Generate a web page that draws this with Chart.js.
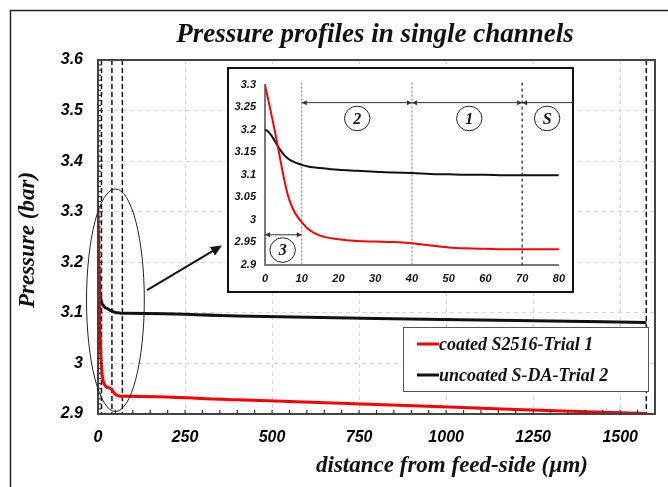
<!DOCTYPE html>
<html>
<head>
<meta charset="utf-8">
<script src="https://cdn.jsdelivr.net/npm/chart.js@4.4.1/dist/chart.umd.min.js"></script>
<style>
  html, body { margin: 0; padding: 0; background: #fff; }
  #wrap { position: relative; width: 668px; height: 487px; overflow: hidden; }
  #mainChart { position: absolute; left: 0; top: 0; }
  #insetBox { position: absolute; left: 227px; top: 67px; width: 343px; height: 222px;
              border: 2px solid #111; background: #fff; }
  #insetChart { display: block; }
</style>
</head>
<body>
<div id="wrap">
  <canvas id="mainChart" width="668" height="487"></canvas>
  <div id="insetBox"><canvas id="insetChart" width="343" height="222"></canvas></div>
</div>
<script>
// distance from feed side (um), near-inlet points shown in the zoom panel
const distNear = [0, 1, 2, 3, 4, 5, 6, 7, 8, 9, 10, 12, 15, 20, 25, 30, 35, 40, 45, 50, 55, 60, 65, 70, 75, 80];
const coatedNear = [3.300, 3.262, 3.224, 3.184, 3.141, 3.099, 3.062, 3.036, 3.018, 3.005, 2.995, 2.978, 2.965,
                    2.957, 2.953, 2.952, 2.951, 2.948, 2.943, 2.939, 2.937, 2.936, 2.935, 2.935, 2.935, 2.935];
const uncoatedNear = [3.200, 3.195, 3.184, 3.170, 3.157, 3.146, 3.138, 3.132, 3.128, 3.125, 3.122, 3.118, 3.115,
                      3.111, 3.109, 3.107, 3.105, 3.104, 3.102, 3.101, 3.100, 3.100, 3.099, 3.099, 3.099, 3.099];

// rest of the channel
const distFar = [400, 800, 1200, 1575];
const coatedFar = [2.928, 2.919, 2.909, 2.901];
const uncoatedFar = [3.094, 3.089, 3.085, 3.081];

const seriesNames = ["coated S2516-Trial 1", "uncoated S-DA-Trial 2"];
const seriesColors = ["#ff0000", "#111111"];

const mainXTicks = [0, 250, 500, 750, 1000, 1250, 1500];
const mainYTicks = [2.9, 3.0, 3.1, 3.2, 3.3, 3.4, 3.5, 3.6];
const insetXTicks = [0, 10, 20, 30, 40, 50, 60, 70, 80];
const insetYTicks = [2.9, 2.95, 3.0, 3.05, 3.1, 3.15, 3.2, 3.25, 3.3];

// zone boundaries (um) and zone names
const zoneEdges = [10, 40, 70];
const channelEnd = 1575;
const zoneLabels = ["3", "2", "1", "S"];

const SANS = '"Liberation Sans", Arial, sans-serif';
const SERIF = '"Liberation Serif", "Times New Roman", serif';

function toPoints(xs, ys) {
    return xs.map((x, i) => ({ x: x, y: ys[i] }));
}
function fmt(v) {
    return String(+v.toFixed(2));
}
function line(ctx, x1, y1, x2, y2) {
    ctx.beginPath();
    ctx.moveTo(x1, y1);
    ctx.lineTo(x2, y2);
    ctx.stroke();
}
function arrowHead(ctx, x, y, angle, len, half) {
    ctx.beginPath();
    ctx.moveTo(x, y);
    ctx.lineTo(x - len * Math.cos(angle) + half * Math.sin(angle), y - len * Math.sin(angle) - half * Math.cos(angle));
    ctx.lineTo(x - len * Math.cos(angle) - half * Math.sin(angle), y - len * Math.sin(angle) + half * Math.cos(angle));
    ctx.closePath();
    ctx.fill();
}

// === MAIN CHART DECORATIONS ===
const mainDecor = {
    id: "mainDecor",
    beforeDatasetsDraw(chart) {
        const { ctx, chartArea: a, scales: { x } } = chart;
        ctx.save();
        ctx.strokeStyle = "#111";
        ctx.lineWidth = 1.5;
        ctx.setLineDash([5, 3]);
        zoneEdges.concat([channelEnd]).forEach(d => {
            const px = x.getPixelForValue(d);
            line(ctx, px, a.top, px, a.bottom);
        });
        ctx.restore();
    },
    afterDraw(chart) {
        const { ctx, chartArea: a, scales: { x, y } } = chart;
        ctx.save();

        // outer figure border (runs off the right and bottom)
        ctx.strokeStyle = "#222";
        ctx.lineWidth = 1.5;
        line(ctx, 10.5, 10, 10.5, 487);
        line(ctx, 10, 10.5, 668, 10.5);

        // plot frame
        ctx.strokeStyle = "#444";
        ctx.lineWidth = 2;
        ctx.strokeRect(a.left, a.top, a.right - a.left, a.bottom - a.top);

        // inward minor ticks
        ctx.lineWidth = 1.2;
        ctx.strokeStyle = "#333";
        for (let v = 50; v < 1600; v += 50) {
            const px = x.getPixelForValue(v);
            line(ctx, px, a.bottom, px, a.bottom - 4);
        }
        for (let k = 291; k < 360; k++) {
            const py = y.getPixelForValue(k / 100);
            line(ctx, a.left, py, a.left + (k % 10 === 0 ? 5 : 3), py);
        }

        // ellipse around the inlet region
        const cx = x.getPixelForValue(50), cy = y.getPixelForValue(3.125);
        const rx = x.getPixelForValue(133) - cx, ry = cy - y.getPixelForValue(3.345);
        ctx.strokeStyle = "#222";
        ctx.lineWidth = 1;
        ctx.beginPath();
        ctx.ellipse(cx, cy, rx, ry, 0, 0, Math.PI * 2);
        ctx.stroke();

        // pointer to the zoom panel
        const x1 = x.getPixelForValue(141), y1 = y.getPixelForValue(3.145);
        const x2 = x.getPixelForValue(356), y2 = y.getPixelForValue(3.233);
        const ang = Math.atan2(y2 - y1, x2 - x1);
        ctx.strokeStyle = "#111";
        ctx.fillStyle = "#111";
        ctx.lineWidth = 2;
        line(ctx, x1, y1, x2 - 8 * Math.cos(ang), y2 - 8 * Math.sin(ang));
        arrowHead(ctx, x2, y2, ang, 11, 5);

        // legend
        ctx.fillStyle = "#fff";
        ctx.fillRect(403, 327, 245, 64);
        ctx.strokeStyle = "#555";
        ctx.lineWidth = 1;
        ctx.strokeRect(403.5, 327.5, 245, 64);
        ctx.font = "bold italic 18px " + SERIF;
        ctx.textAlign = "left";
        ctx.textBaseline = "middle";
        chart.data.datasets.forEach((ds, i) => {
            const ly = 344 + i * 31;
            ctx.strokeStyle = ds.borderColor;
            ctx.lineWidth = 3;
            line(ctx, 417, ly, 439, ly);
            ctx.fillStyle = "#111";
            ctx.fillText(ds.label, 439, ly + 1);
        });

        // titles
        ctx.fillStyle = "#111";
        ctx.textAlign = "center";
        ctx.textBaseline = "alphabetic";
        ctx.font = "bold italic 27px " + SERIF;
        ctx.fillText("Pressure profiles in single channels", 375, 42);
        ctx.font = "bold italic 23px " + SERIF;
        ctx.fillText("distance from feed-side (\u00b5m)", 452, 472);
        ctx.translate(34, 240);
        ctx.rotate(-Math.PI / 2);
        ctx.font = "bold italic 23px " + SERIF;
        ctx.fillText("Pressure (bar)", 0, 0);
        ctx.restore();
    }
};

// === ZOOM PANEL DECORATIONS ===
const insetDecor = {
    id: "insetDecor",
    beforeDatasetsDraw(chart) {
        const { ctx, chartArea: a, scales: { x } } = chart;
        ctx.save();
        ctx.lineWidth = 1.2;
        zoneEdges.forEach((d, i) => {
            const px = x.getPixelForValue(d);
            ctx.strokeStyle = i < 2 ? "#8a8a8a" : "#222";
            ctx.setLineDash(i < 2 ? [2, 2] : [3, 3]);
            line(ctx, px, a.top - 2, px, a.bottom);
        });
        ctx.restore();
    },
    afterDraw(chart) {
        const { ctx, scales: { x, y } } = chart;
        ctx.save();
        ctx.lineWidth = 1;
        ctx.strokeStyle = "#333";
        ctx.fillStyle = "#333";

        // zone spans with arrow ends
        const topY = y.getPixelForValue(3.26);
        const spans = [[10, 40], [40, 70], [70, null]];
        spans.forEach(([s, e]) => {
            const p1 = x.getPixelForValue(s);
            const p2 = e === null ? chart.width : x.getPixelForValue(e);
            line(ctx, p1, topY, p2, topY);
            arrowHead(ctx, p1, topY, Math.PI, 5, 2.5);
            if (e !== null) arrowHead(ctx, p2, topY, 0, 5, 2.5);
        });
        const lowY = y.getPixelForValue(2.967);
        const q1 = x.getPixelForValue(0), q2 = x.getPixelForValue(10);
        line(ctx, q1, lowY, q2, lowY);
        arrowHead(ctx, q1, lowY, Math.PI, 5, 2.5);
        arrowHead(ctx, q2, lowY, 0, 5, 2.5);

        // circled zone names
        const spots = [[4.8, 2.933], [25.1, 3.225], [55.6, 3.225], [76.8, 3.225]];
        ctx.font = "bold italic 16px " + SERIF;
        ctx.textAlign = "center";
        ctx.textBaseline = "middle";
        spots.forEach(([vx, vy], i) => {
            const cx = x.getPixelForValue(vx), cy = y.getPixelForValue(vy);
            ctx.fillStyle = "#fff";
            ctx.beginPath();
            ctx.ellipse(cx, cy, 12.7, 12.3, 0, 0, Math.PI * 2);
            ctx.fill();
            ctx.strokeStyle = "#222";
            ctx.stroke();
            ctx.fillStyle = "#111";
            ctx.fillText(zoneLabels[i], cx, cy + 1);
        });
        ctx.restore();
    }
};

const mainTickFont = { family: SANS, size: 16, weight: "bold", style: "italic" };
const insetTickFont = { family: SANS, size: 11, weight: "bold", style: "italic" };

const mainChart = new Chart(document.getElementById("mainChart"), {
    type: "line",
    data: {
        datasets: [
            {
                label: seriesNames[0],
                data: toPoints(distNear.concat(distFar), coatedNear.concat(coatedFar)),
                borderColor: seriesColors[0],
                borderWidth: 3,
                pointRadius: 0,
                cubicInterpolationMode: "monotone"
            },
            {
                label: seriesNames[1],
                data: toPoints(distNear.concat(distFar), uncoatedNear.concat(uncoatedFar)),
                borderColor: seriesColors[1],
                borderWidth: 3,
                pointRadius: 0,
                cubicInterpolationMode: "monotone"
            }
        ]
    },
    options: {
        responsive: false,
        animation: false,
        layout: { padding: { top: 60, right: 13, left: 0, bottom: 0 } },
        plugins: { legend: { display: false }, tooltip: { enabled: false } },
        scales: {
            x: {
                type: "linear",
                min: 0,
                max: 1600,
                afterBuildTicks: s => { s.ticks = mainXTicks.map(v => ({ value: v })); },
                afterFit: s => { s.height = 73; },
                grid: { color: "#d6d6d6", lineWidth: 1, drawTicks: false },
                border: { display: false, dash: [4, 4] },
                ticks: { font: mainTickFont, color: "#000", padding: 14, maxRotation: 0, callback: v => fmt(v) }
            },
            y: {
                type: "linear",
                min: 2.9,
                max: 3.6,
                afterBuildTicks: s => { s.ticks = mainYTicks.map(v => ({ value: v })); },
                afterFit: s => { s.width = 98; },
                grid: { color: "#d6d6d6", lineWidth: 1, drawTicks: false },
                border: { display: false, dash: [4, 4] },
                ticks: { font: mainTickFont, color: "#000", padding: 15, callback: v => fmt(v) }
            }
        }
    },
    plugins: [mainDecor]
});

const insetChart = new Chart(document.getElementById("insetChart"), {
    type: "line",
    data: {
        datasets: [
            {
                label: seriesNames[0],
                data: toPoints(distNear, coatedNear),
                borderColor: seriesColors[0],
                borderWidth: 2,
                pointRadius: 0,
                cubicInterpolationMode: "monotone"
            },
            {
                label: seriesNames[1],
                data: toPoints(distNear, uncoatedNear),
                borderColor: seriesColors[1],
                borderWidth: 2,
                pointRadius: 0,
                cubicInterpolationMode: "monotone"
            }
        ]
    },
    options: {
        responsive: false,
        animation: false,
        layout: { padding: { top: 7, right: 11, left: 0, bottom: 0 } },
        plugins: { legend: { display: false }, tooltip: { enabled: false } },
        scales: {
            x: {
                type: "linear",
                min: 0,
                max: 80,
                afterBuildTicks: s => { s.ticks = insetXTicks.map(v => ({ value: v })); },
                afterFit: s => { s.height = 26; },
                grid: { display: false, drawTicks: false },
                border: { display: true, color: "#777", width: 2 },
                ticks: { font: insetTickFont, color: "#111", padding: 7, maxRotation: 0, callback: v => fmt(v) }
            },
            y: {
                type: "linear",
                min: 2.9,
                max: 3.3,
                afterBuildTicks: s => { s.ticks = insetYTicks.map(v => ({ value: v })); },
                afterFit: s => { s.width = 36; },
                grid: { display: false, drawTicks: false },
                border: { display: true, color: "#777", width: 2 },
                ticks: { font: insetTickFont, color: "#111", padding: 9, callback: v => fmt(v) }
            }
        }
    },
    plugins: [insetDecor]
});
</script>
</body>
</html>
